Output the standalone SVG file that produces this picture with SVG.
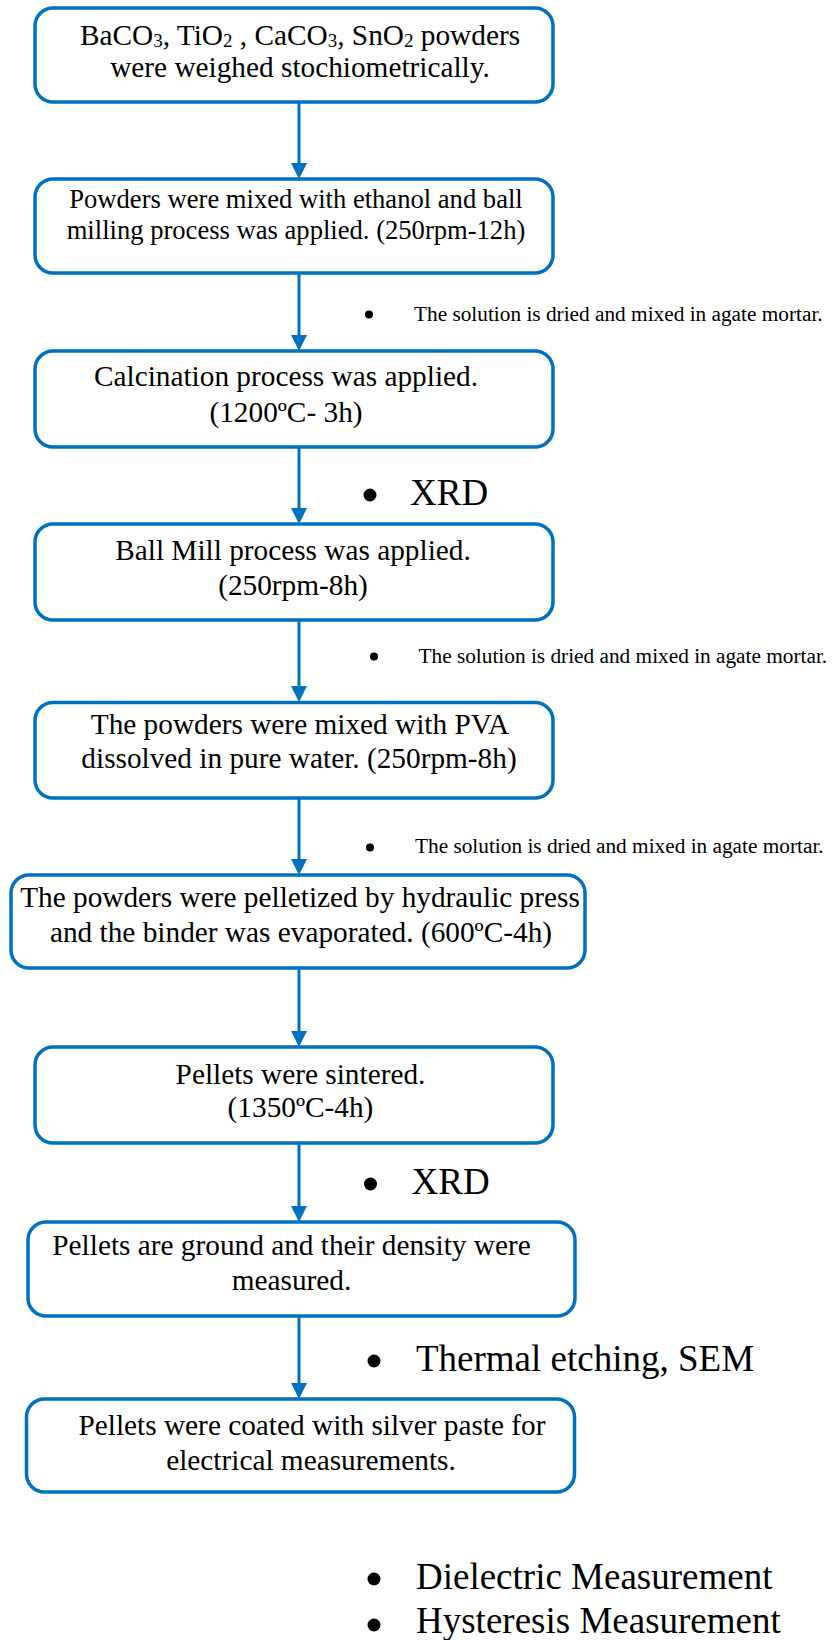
<svg xmlns="http://www.w3.org/2000/svg" width="836" height="1640" viewBox="0 0 836 1640">
<style>
.box{fill:#fff;stroke:#0070C0;stroke-width:3.5}
.t{font-family:"Liberation Serif","Times New Roman",serif;font-size:29.3px;fill:#000;text-anchor:middle}
.t2{font-size:26.6px}
.n{font-family:"Liberation Serif","Times New Roman",serif;font-size:21.3px;fill:#000}
.b{font-family:"Liberation Serif","Times New Roman",serif;font-size:37px;fill:#000}
.sub{font-size:19px}
.conn line{stroke:#0070C0;stroke-width:3;fill:none}
.dot{fill:#000}
</style>
<defs>
<marker id="ah" markerUnits="userSpaceOnUse" markerWidth="16" markerHeight="16" viewBox="0 0 16 16" refX="1" refY="8" orient="auto">
<path d="M0,0 L16,8 L0,16 Z" fill="#0070C0"/>
</marker>
</defs>
<rect width="836" height="1640" fill="#fff"/>

<g class="conn" id="connectors">
<line x1="299" y1="102" x2="299" y2="164" marker-end="url(#ah)"/>
<line x1="299" y1="273" x2="299" y2="336" marker-end="url(#ah)"/>
<line x1="299" y1="447" x2="299" y2="509" marker-end="url(#ah)"/>
<line x1="299" y1="620" x2="299" y2="687" marker-end="url(#ah)"/>
<line x1="299" y1="798" x2="299" y2="860" marker-end="url(#ah)"/>
<line x1="299" y1="968" x2="299" y2="1032" marker-end="url(#ah)"/>
<line x1="299" y1="1143" x2="299" y2="1207" marker-end="url(#ah)"/>
<line x1="299" y1="1316" x2="299" y2="1384" marker-end="url(#ah)"/>
</g>

<g id="n1">
<rect class="box" x="35" y="8" width="518" height="94" rx="18"/>
<text class="t" x="300" y="45">BaCO<tspan class="sub" dy="2">3</tspan><tspan dy="-2">, TiO</tspan><tspan class="sub" dy="2">2</tspan><tspan dy="-2"> , CaCO</tspan><tspan class="sub" dy="2">3</tspan><tspan dy="-2">, SnO</tspan><tspan class="sub" dy="2">2</tspan><tspan dy="-2"> powders</tspan></text>
<text class="t" x="300" y="77">were weighed stochiometrically.</text>
</g>

<g id="n2">
<rect class="box" x="35" y="179" width="518" height="94" rx="18"/>
<text class="t t2" x="296" y="208">Powders were mixed with ethanol and ball</text>
<text class="t t2" x="296" y="239">milling process was applied. (250rpm-12h)</text>
</g>

<g id="note1">
<circle class="dot" cx="369" cy="314.5" r="4"/>
<text class="n" x="414" y="320.7">The solution is dried and mixed in agate mortar.</text>
</g>

<g id="n3">
<rect class="box" x="35" y="351" width="518" height="96" rx="18"/>
<text class="t" x="286" y="386">Calcination process was applied.</text>
<text class="t" x="286" y="421.7">(1200ºC- 3h)</text>
</g>

<g id="note2">
<circle class="dot" cx="370" cy="495" r="6.5"/>
<text class="b" x="410" y="505">XRD</text>
</g>

<g id="n4">
<rect class="box" x="35" y="524" width="518" height="96" rx="18"/>
<text class="t" x="293" y="560">Ball Mill process was applied.</text>
<text class="t" x="293" y="594.5">(250rpm-8h)</text>
</g>

<g id="note3">
<circle class="dot" cx="374" cy="656.5" r="4"/>
<text class="n" x="418.5" y="662.7">The solution is dried and mixed in agate mortar.</text>
</g>

<g id="n5">
<rect class="box" x="35" y="702.5" width="518" height="95.5" rx="18"/>
<text class="t" x="300" y="734.3">The powders were mixed with PVA</text>
<text class="t" x="299" y="768.3">dissolved in pure water. (250rpm-8h)</text>
</g>

<g id="note4">
<circle class="dot" cx="370" cy="847.5" r="4"/>
<text class="n" x="415" y="853">The solution is dried and mixed in agate mortar.</text>
</g>

<g id="n6">
<rect class="box" x="11" y="875" width="574" height="93" rx="18"/>
<text class="t" x="300" y="906.7">The powders were pelletized by hydraulic press</text>
<text class="t" x="301" y="941.7">and the binder was evaporated. (600ºC-4h)</text>
</g>

<g id="n7">
<rect class="box" x="35" y="1047" width="518" height="96" rx="18"/>
<text class="t" x="300.5" y="1084">Pellets were sintered.</text>
<text class="t" x="300.5" y="1116.7">(1350ºC-4h)</text>
</g>

<g id="note5">
<circle class="dot" cx="370.5" cy="1184" r="6.5"/>
<text class="b" x="411.5" y="1194">XRD</text>
</g>

<g id="n8">
<rect class="box" x="28" y="1222" width="547" height="94" rx="18"/>
<text class="t" x="291.5" y="1255">Pellets are ground and their density were</text>
<text class="t" x="291.5" y="1290">measured.</text>
</g>

<g id="note6">
<circle class="dot" cx="374" cy="1361" r="6.5"/>
<text class="b" x="416" y="1370.7">Thermal etching, SEM</text>
</g>

<g id="n9">
<rect class="box" x="26.5" y="1399" width="548" height="93" rx="18"/>
<text class="t" x="312" y="1435">Pellets were coated with silver paste for</text>
<text class="t" x="311" y="1470">electrical measurements.</text>
</g>

<g id="note7">
<circle class="dot" cx="374" cy="1579" r="6.5"/>
<text class="b" x="416" y="1589">Dielectric Measurement</text>
<circle class="dot" cx="374" cy="1625" r="6.5"/>
<text class="b" x="416" y="1633">Hysteresis Measurement</text>
</g>
</svg>
